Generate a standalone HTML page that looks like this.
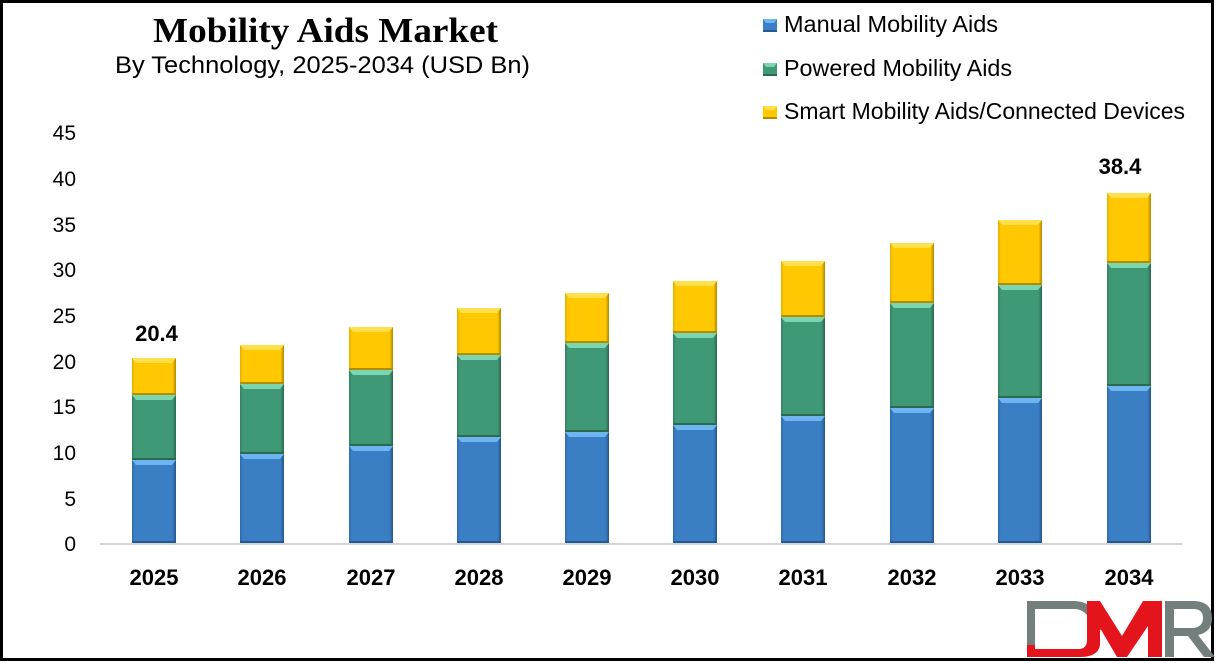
<!DOCTYPE html>
<html>
<head>
<meta charset="utf-8">
<style>
html,body{margin:0;padding:0;background:#fff;}
body{width:1216px;height:663px;overflow:hidden;}
svg{display:block;}
.t{font-family:"Liberation Sans",Arial,sans-serif;}
</style>
</head>
<body>
<svg width="1216" height="663" viewBox="0 0 1216 663" xmlns="http://www.w3.org/2000/svg">
<defs>
<linearGradient id="gB" x1="0" x2="1" y1="0" y2="0">
<stop offset="0" stop-color="#2f6aa8"/><stop offset="0.06" stop-color="#3a7ec4"/><stop offset="0.92" stop-color="#3a7ec4"/><stop offset="1" stop-color="#23558b"/>
</linearGradient>
<linearGradient id="gG" x1="0" x2="1" y1="0" y2="0">
<stop offset="0" stop-color="#337f61"/><stop offset="0.06" stop-color="#3f9876"/><stop offset="0.92" stop-color="#3f9876"/><stop offset="1" stop-color="#2a6850"/>
</linearGradient>
<linearGradient id="gY" x1="0" x2="1" y1="0" y2="0">
<stop offset="0" stop-color="#e0ae00"/><stop offset="0.06" stop-color="#ffc800"/><stop offset="0.92" stop-color="#ffc800"/><stop offset="1" stop-color="#b08800"/>
</linearGradient>
<style>
.B{fill:url(#gB)}.G{fill:url(#gG)}.Y{fill:url(#gY)}
.hB{fill:#6cb5f0}.hG{fill:#7bd6b0}.hY{fill:#ffe04a}
.dB{fill:#25588e}.dG{fill:#2b6a51}.dY{fill:#b48c00}
</style>
</defs>

<rect x="0" y="0" width="1216" height="663" fill="#fff"/>
<rect x="1.5" y="1.5" width="1211" height="658" fill="none" stroke="#000" stroke-width="3"/>

<!-- Title -->
<text x="153" y="42" font-family="'Liberation Serif','Times New Roman',serif" font-weight="bold" font-size="35" textLength="345" lengthAdjust="spacingAndGlyphs" fill="#000">Mobility Aids Market</text>
<text class="t" x="115" y="73" font-size="24" textLength="415" lengthAdjust="spacingAndGlyphs" fill="#000">By Technology, 2025-2034 (USD Bn)</text>

<!-- Legend -->
<rect x="763" y="19" width="14" height="13" fill="#3a7ec4"/><polygon points="763,19 777,19 774,23 766,23" fill="#6cb5f0"/><rect x="763" y="30" width="14" height="2" fill="#25588e"/>
<rect x="763" y="63" width="14" height="13" fill="#3f9876"/><polygon points="763,63 777,63 774,67 766,67" fill="#7bd6b0"/><rect x="763" y="74" width="14" height="2" fill="#2b6a51"/>
<rect x="763" y="106" width="14" height="13" fill="#ffc800"/><polygon points="763,106 777,106 774,110 766,110" fill="#ffe04a"/><rect x="763" y="117" width="14" height="2" fill="#b48c00"/>
<text class="t" x="784" y="32" font-size="23" textLength="214" lengthAdjust="spacingAndGlyphs" fill="#000">Manual Mobility Aids</text>
<text class="t" x="784" y="76" font-size="23" textLength="228" lengthAdjust="spacingAndGlyphs" fill="#000">Powered Mobility Aids</text>
<text class="t" x="784" y="119" font-size="23" textLength="401" lengthAdjust="spacingAndGlyphs" fill="#000">Smart Mobility Aids/Connected Devices</text>

<!-- Y axis labels -->
<g class="t" font-size="21" text-anchor="end" fill="#000">
<text x="76" y="140">45</text>
<text x="76" y="186">40</text>
<text x="76" y="232">35</text>
<text x="76" y="277">30</text>
<text x="76" y="323">25</text>
<text x="76" y="369">20</text>
<text x="76" y="414">15</text>
<text x="76" y="460">10</text>
<text x="76" y="506">5</text>
<text x="76" y="551">0</text>
</g>

<!-- Bars -->
<!-- 2025 -->
<g transform="translate(132,0)">
<rect class="Y" x="0" y="358" width="44" height="37"/><polygon class="hY" points="0,358 44,358 40,363 4,363"/><rect class="dY" x="0" y="393" width="44" height="2"/>
<rect class="G" x="0" y="395" width="44" height="65"/><polygon class="hG" points="0,395 44,395 40,400 4,400"/><rect class="dG" x="0" y="458" width="44" height="2"/>
<rect class="B" x="0" y="460" width="44" height="83"/><polygon class="hB" points="0,460 44,460 40,465 4,465"/><rect class="dB" x="0" y="541" width="44" height="2"/>
</g>
<!-- 2026 -->
<g transform="translate(240,0)">
<rect class="Y" x="0" y="345" width="44" height="39"/><polygon class="hY" points="0,345 44,345 40,350 4,350"/><rect class="dY" x="0" y="382" width="44" height="2"/>
<rect class="G" x="0" y="384" width="44" height="70"/><polygon class="hG" points="0,384 44,384 40,389 4,389"/><rect class="dG" x="0" y="452" width="44" height="2"/>
<rect class="B" x="0" y="454" width="44" height="89"/><polygon class="hB" points="0,454 44,454 40,459 4,459"/><rect class="dB" x="0" y="541" width="44" height="2"/>
</g>
<!-- 2027 -->
<g transform="translate(349,0)">
<rect class="Y" x="0" y="327" width="44" height="43"/><polygon class="hY" points="0,327 44,327 40,332 4,332"/><rect class="dY" x="0" y="368" width="44" height="2"/>
<rect class="G" x="0" y="370" width="44" height="76"/><polygon class="hG" points="0,370 44,370 40,375 4,375"/><rect class="dG" x="0" y="444" width="44" height="2"/>
<rect class="B" x="0" y="446" width="44" height="97"/><polygon class="hB" points="0,446 44,446 40,451 4,451"/><rect class="dB" x="0" y="541" width="44" height="2"/>
</g>
<!-- 2028 -->
<g transform="translate(457,0)">
<rect class="Y" x="0" y="308" width="44" height="47"/><polygon class="hY" points="0,308 44,308 40,313 4,313"/><rect class="dY" x="0" y="353" width="44" height="2"/>
<rect class="G" x="0" y="355" width="44" height="82"/><polygon class="hG" points="0,355 44,355 40,360 4,360"/><rect class="dG" x="0" y="435" width="44" height="2"/>
<rect class="B" x="0" y="437" width="44" height="106"/><polygon class="hB" points="0,437 44,437 40,442 4,442"/><rect class="dB" x="0" y="541" width="44" height="2"/>
</g>
<!-- 2029 -->
<g transform="translate(565,0)">
<rect class="Y" x="0" y="293" width="44" height="50"/><polygon class="hY" points="0,293 44,293 40,298 4,298"/><rect class="dY" x="0" y="341" width="44" height="2"/>
<rect class="G" x="0" y="343" width="44" height="89"/><polygon class="hG" points="0,343 44,343 40,348 4,348"/><rect class="dG" x="0" y="430" width="44" height="2"/>
<rect class="B" x="0" y="432" width="44" height="111"/><polygon class="hB" points="0,432 44,432 40,437 4,437"/><rect class="dB" x="0" y="541" width="44" height="2"/>
</g>
<!-- 2030 -->
<g transform="translate(673,0)">
<rect class="Y" x="0" y="281" width="44" height="52"/><polygon class="hY" points="0,281 44,281 40,286 4,286"/><rect class="dY" x="0" y="331" width="44" height="2"/>
<rect class="G" x="0" y="333" width="44" height="92"/><polygon class="hG" points="0,333 44,333 40,338 4,338"/><rect class="dG" x="0" y="423" width="44" height="2"/>
<rect class="B" x="0" y="425" width="44" height="118"/><polygon class="hB" points="0,425 44,425 40,430 4,430"/><rect class="dB" x="0" y="541" width="44" height="2"/>
</g>
<!-- 2031 -->
<g transform="translate(781,0)">
<rect class="Y" x="0" y="261" width="44" height="56"/><polygon class="hY" points="0,261 44,261 40,266 4,266"/><rect class="dY" x="0" y="315" width="44" height="2"/>
<rect class="G" x="0" y="317" width="44" height="99"/><polygon class="hG" points="0,317 44,317 40,322 4,322"/><rect class="dG" x="0" y="414" width="44" height="2"/>
<rect class="B" x="0" y="416" width="44" height="127"/><polygon class="hB" points="0,416 44,416 40,421 4,421"/><rect class="dB" x="0" y="541" width="44" height="2"/>
</g>
<!-- 2032 -->
<g transform="translate(890,0)">
<rect class="Y" x="0" y="243" width="44" height="60"/><polygon class="hY" points="0,243 44,243 40,248 4,248"/><rect class="dY" x="0" y="301" width="44" height="2"/>
<rect class="G" x="0" y="303" width="44" height="105"/><polygon class="hG" points="0,303 44,303 40,308 4,308"/><rect class="dG" x="0" y="406" width="44" height="2"/>
<rect class="B" x="0" y="408" width="44" height="135"/><polygon class="hB" points="0,408 44,408 40,413 4,413"/><rect class="dB" x="0" y="541" width="44" height="2"/>
</g>
<!-- 2033 -->
<g transform="translate(998,0)">
<rect class="Y" x="0" y="220" width="44" height="65"/><polygon class="hY" points="0,220 44,220 40,225 4,225"/><rect class="dY" x="0" y="283" width="44" height="2"/>
<rect class="G" x="0" y="285" width="44" height="113"/><polygon class="hG" points="0,285 44,285 40,290 4,290"/><rect class="dG" x="0" y="396" width="44" height="2"/>
<rect class="B" x="0" y="398" width="44" height="145"/><polygon class="hB" points="0,398 44,398 40,403 4,403"/><rect class="dB" x="0" y="541" width="44" height="2"/>
</g>
<!-- 2034 -->
<g transform="translate(1107,0)">
<rect class="Y" x="0" y="193" width="44" height="70"/><polygon class="hY" points="0,193 44,193 40,198 4,198"/><rect class="dY" x="0" y="261" width="44" height="2"/>
<rect class="G" x="0" y="263" width="44" height="123"/><polygon class="hG" points="0,263 44,263 40,268 4,268"/><rect class="dG" x="0" y="384" width="44" height="2"/>
<rect class="B" x="0" y="386" width="44" height="157"/><polygon class="hB" points="0,386 44,386 40,391 4,391"/><rect class="dB" x="0" y="541" width="44" height="2"/>
</g>

<!-- Axis line -->
<rect x="100" y="543" width="1082" height="2" fill="#d4d4d4"/>

<!-- Data labels -->
<text class="t" x="156.5" y="341" font-size="22" font-weight="bold" text-anchor="middle" fill="#000">20.4</text>
<text class="t" x="1120" y="174" font-size="22" font-weight="bold" text-anchor="middle" fill="#000">38.4</text>

<!-- Category labels -->
<g class="t" font-size="22" font-weight="bold" text-anchor="middle" fill="#000">
<text x="154" y="585">2025</text>
<text x="262" y="585">2026</text>
<text x="371" y="585">2027</text>
<text x="479" y="585">2028</text>
<text x="587" y="585">2029</text>
<text x="695" y="585">2030</text>
<text x="803" y="585">2031</text>
<text x="912" y="585">2032</text>
<text x="1020" y="585">2033</text>
<text x="1129" y="585">2034</text>
</g>

<!-- DMR logo -->
<g>
<!-- gray D parts -->
<path d="M1027,601 L1075,601 Q1100,603 1101,630 L1092,630 Q1090,610 1075,609 L1035,609 L1035,645 L1027,645 Z" fill="#727f7d"/>
<!-- red D bottom + M -->
<path d="M1027,645 L1035,645 L1035,649 L1080,649 Q1087,648 1087,640 L1087,601 L1100,601 L1122,636 L1143,601 L1162,601 L1162,657 L1148,657 L1148,626 L1127,657 L1117,657 L1100,628 L1100,645 Q1098,657 1080,657 L1027,657 Z" fill="#e3141b"/>
<!-- gray R -->
<path d="M1165,601 L1195,601 Q1212,602 1212,618 Q1212,632 1198,635 L1215,657 L1204,657 L1188,636 L1174,636 L1174,657 L1165,657 Z M1174,609 L1174,628 L1193,628 Q1203,627 1203,618 Q1203,609 1193,609 Z" fill="#727f7d" fill-rule="evenodd"/>
</g>
</svg>
</body>
</html>
